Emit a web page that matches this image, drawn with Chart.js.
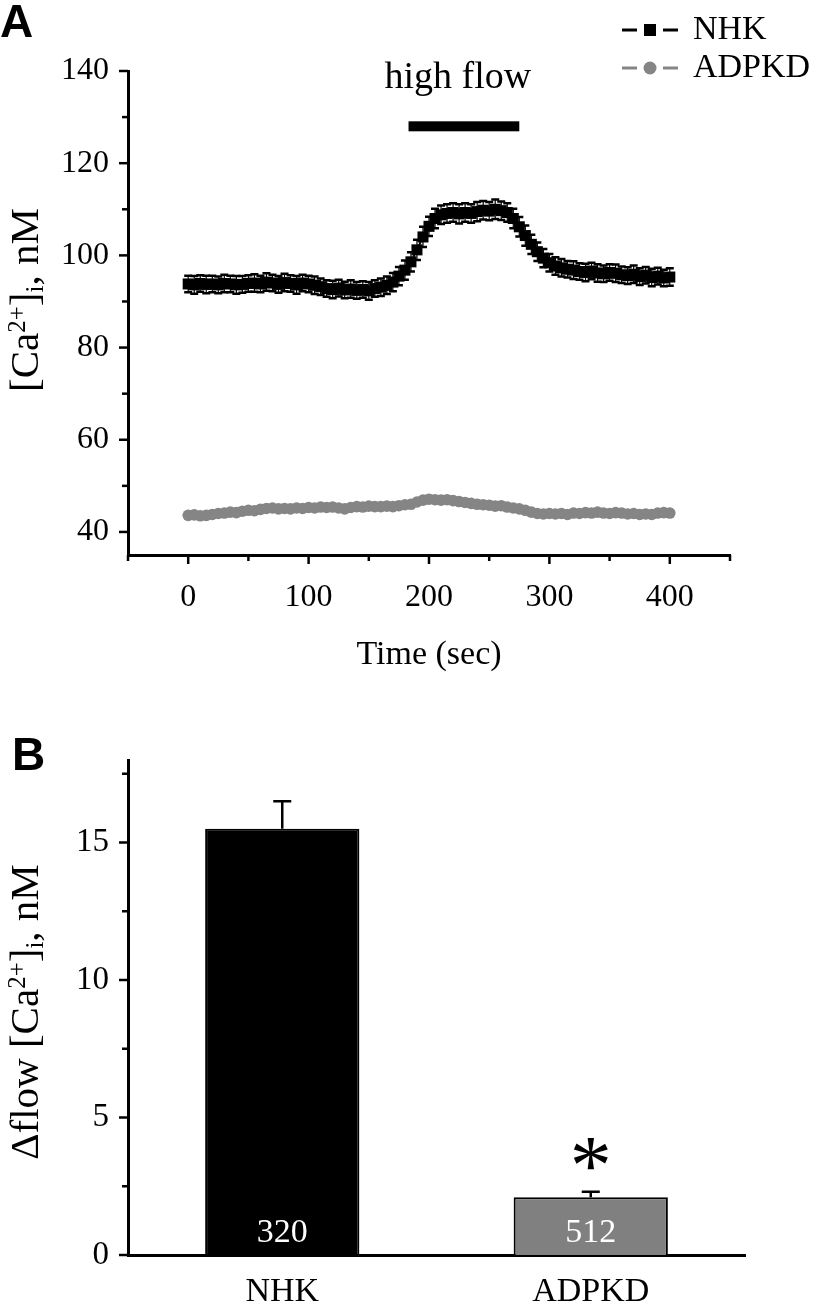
<!DOCTYPE html>
<html>
<head>
<meta charset="utf-8">
<title>Flow-induced Ca2+ response, NHK vs ADPKD</title>
<script src="https://cdn.jsdelivr.net/npm/chart.js@4.4.1/dist/chart.umd.min.js"></script>
<style>
  body { margin: 0; background: #ffffff; }
  canvas { position: absolute; left: 0; }
  #chartA { top: 0; }
  #chartB { top: 690px; }
</style>
</head>
<body>
<canvas id="chartA" width="816" height="690"></canvas>
<canvas id="chartB" width="816" height="615"></canvas>
<script>
// ---- Panel A: [Ca2+]i trace, one point every 5 sec
const timeSec = [0, 5, 10, 15, 20, 25, 30, 35, 40, 45, 50, 55, 60, 65, 70, 75, 80, 85, 90, 95,
  100, 105, 110, 115, 120, 125, 130, 135, 140, 145, 150, 155, 160, 165, 170, 175, 180, 185, 190, 195,
  200, 205, 210, 215, 220, 225, 230, 235, 240, 245, 250, 255, 260, 265, 270, 275, 280, 285, 290, 295,
  300, 305, 310, 315, 320, 325, 330, 335, 340, 345, 350, 355, 360, 365, 370, 375, 380, 385, 390, 395, 400];

const nhkMean = [93.8, 93.6, 93.9, 93.7, 93.8, 93.6, 93.9, 93.8, 93.6, 93.7, 93.9,
  94.0, 93.8, 94.2, 94.0, 93.7, 94.1, 93.9, 93.6, 94.0, 93.8, 93.5, 93.2,
  92.8, 92.6, 92.9, 92.5, 92.7, 92.4, 92.6, 92.3, 92.8, 93.1,
  93.5, 94.2, 95.5, 96.8, 98.6, 101.2, 104.0, 106.3,
  108.0, 108.8, 109.1, 109.3, 109.0, 109.3, 109.1, 109.5, 109.8, 109.6, 110.0, 109.7, 109.3,
  108.0, 106.2, 104.3, 102.4, 100.8, 99.4, 98.4, 97.7, 97.3, 97.0, 96.8,
  96.5, 96.3, 96.6, 96.2, 96.0, 96.3, 96.1, 95.8, 95.6, 95.9, 95.4, 95.7, 95.2, 95.5, 95.1, 95.3];

const nhkErr = [1.8, 1.9, 1.8, 1.9, 1.8, 1.8, 1.9, 1.8, 1.9, 1.8, 1.8,
  1.9, 1.8, 1.9, 1.8, 1.8, 1.9, 1.8, 1.9, 1.8, 1.8, 1.9, 1.8,
  1.8, 1.9, 1.8, 1.8, 1.9, 1.8, 1.8, 1.9, 1.8, 1.9,
  1.9, 2.0, 2.0, 2.1, 2.1, 2.2, 2.2, 2.1,
  2.1, 2.0, 2.0, 2.0, 2.1, 2.0, 2.0, 2.1, 2.0, 2.0, 2.1, 2.0, 2.0,
  2.1, 2.1, 2.2, 2.1, 2.0, 2.0, 1.9, 1.9, 1.9, 1.8, 1.9,
  1.8, 1.9, 1.8, 1.9, 1.8, 1.8, 1.9, 1.8, 1.8, 1.9, 1.8, 1.8, 1.9, 1.8, 1.8, 1.9];

const adpkdMean = [43.6, 43.7, 43.5, 43.6, 43.8, 44.0, 44.1, 44.3, 44.2, 44.5, 44.7,
  44.6, 44.9, 45.1, 45.2, 45.0, 45.1, 45.0, 45.2, 45.1, 45.3, 45.2, 45.4,
  45.3, 45.4, 45.2, 45.0, 45.3, 45.5, 45.4, 45.6, 45.5, 45.5,
  45.6, 45.5, 45.7, 45.9, 46.0, 46.5, 46.9, 47.1,
  47.0, 46.9, 47.0, 46.8, 46.6, 46.4, 46.2, 46.0, 45.9, 45.8, 45.6, 45.7, 45.4,
  45.2, 45.0, 44.7, 44.3, 44.0, 43.9, 44.0, 43.9, 44.0, 43.8, 44.1,
  44.0, 44.2, 44.1, 44.3, 44.1, 44.0, 44.2, 44.1, 43.9, 44.0, 43.8, 43.9, 43.8, 44.1, 44.2, 44.1];

// high flow period (sec) and the level of the marker bar (nM)
const flowStart = 183;
const flowEnd = 275;
const flowMarkLevel = 128;

const timeTicks = [-50, 0, 50, 100, 150, 200, 250, 300, 350, 400, 450];
const caTicks = [40, 50, 60, 70, 80, 90, 100, 110, 120, 130, 140];

// ---- Panel B: flow-induced rise
const groups = ['NHK', 'ADPKD'];
const deltaMean = [15.5, 2.1];
const deltaErr = [1.0, 0.2];
const cellCounts = ['320', '512'];
const sigMarks = ['', '*'];
const deltaTicks = [0, 2.5, 5, 7.5, 10, 12.5, 15, 17.5];

const serif = '"Liberation Serif", "Times New Roman", serif';
const grey = '#858585';
Chart.defaults.font.family = serif;
Chart.defaults.color = '#000';

// draws outward tick marks, long ones on the labelled values
function drawTickMarks(chart, id, majorStep) {
  const scale = chart.scales[id];
  const ctx = chart.ctx;
  ctx.save();
  ctx.strokeStyle = '#000';
  ctx.lineWidth = 2.5;
  scale.ticks.forEach(t => {
    const p = scale.getPixelForValue(t.value);
    const len = (t.value % majorStep === 0) ? 9 : 6;
    ctx.beginPath();
    if (scale.isHorizontal()) {
      ctx.moveTo(p, scale.top);
      ctx.lineTo(p, scale.top + len);
    } else {
      ctx.moveTo(scale.right, p);
      ctx.lineTo(scale.right - len, p);
    }
    ctx.stroke();
  });
  ctx.restore();
}

// rotated axis title with super/subscripts
function richTitle(ctx, parts, cx, cy, size) {
  const small = Math.round(size * 0.62);
  ctx.save();
  ctx.translate(cx, cy);
  ctx.rotate(-Math.PI / 2);
  ctx.fillStyle = '#000';
  ctx.textBaseline = 'middle';
  let total = 0;
  const widths = parts.map(p => {
    ctx.font = (p.sup || p.sub ? small : size) + 'px ' + serif;
    const w = ctx.measureText(p.text).width;
    total += w;
    return w;
  });
  let x = -total / 2;
  parts.forEach((p, i) => {
    ctx.font = (p.sup || p.sub ? small : size) + 'px ' + serif;
    const dy = p.sup ? -size * 0.22 : (p.sub ? size * 0.24 : 0);
    ctx.fillText(p.text, x, dy);
    x += widths[i];
  });
  ctx.restore();
}

const caParts = [{text: '[Ca'}, {text: '2+', sup: true}, {text: ']'}, {text: 'i', sub: true}, {text: ', nM'}];

function panelLetter(ctx, letter, x, y) {
  ctx.save();
  ctx.fillStyle = '#000';
  ctx.font = 'bold 46px "Liberation Sans", Arial, sans-serif';
  ctx.textBaseline = 'alphabetic';
  ctx.fillText(letter, x, y);
  ctx.restore();
}

const panelA = {
  id: 'panelA',
  beforeDatasetsDraw(chart) {
    // SEM bars for NHK
    const {ctx, scales: {x, y}} = chart;
    ctx.save();
    ctx.strokeStyle = '#000';
    ctx.lineWidth = 1.2;
    timeSec.forEach((t, i) => {
      const px = x.getPixelForValue(t);
      const top = y.getPixelForValue(nhkMean[i] + nhkErr[i]);
      const bot = y.getPixelForValue(nhkMean[i] - nhkErr[i]);
      ctx.beginPath();
      ctx.moveTo(px, top); ctx.lineTo(px, bot);
      ctx.stroke();
    });
    ctx.lineWidth = 2.5;
    timeSec.forEach((t, i) => {
      const px = x.getPixelForValue(t);
      const top = y.getPixelForValue(nhkMean[i] + nhkErr[i]);
      const bot = y.getPixelForValue(nhkMean[i] - nhkErr[i]);
      ctx.beginPath();
      ctx.moveTo(px - 4, top); ctx.lineTo(px + 4, top);
      ctx.moveTo(px - 4, bot); ctx.lineTo(px + 4, bot);
      ctx.stroke();
    });
    ctx.restore();
  },
  afterDraw(chart) {
    const {ctx, scales: {x, y}} = chart;
    drawTickMarks(chart, 'x', 100);
    drawTickMarks(chart, 'y', 20);

    // high flow bar
    const x0 = x.getPixelForValue(flowStart);
    const x1 = x.getPixelForValue(flowEnd);
    const yb = y.getPixelForValue(flowMarkLevel);
    ctx.save();
    ctx.fillStyle = '#000';
    ctx.fillRect(x0, yb - 5, x1 - x0, 10);
    ctx.font = '38px ' + serif;
    ctx.textAlign = 'center';
    ctx.textBaseline = 'alphabetic';
    ctx.fillText('high flow', (x0 + x1) / 2 - 6, yb - 38);

    // legend
    const rows = [
      {label: 'NHK', color: '#000', style: 'rect', yc: 30},
      {label: 'ADPKD', color: grey, style: 'circle', yc: 68}
    ];
    rows.forEach(r => {
      ctx.strokeStyle = r.color;
      ctx.fillStyle = r.color;
      ctx.lineWidth = 3;
      ctx.beginPath();
      ctx.moveTo(622, r.yc); ctx.lineTo(637, r.yc);
      ctx.moveTo(663, r.yc); ctx.lineTo(678, r.yc);
      ctx.stroke();
      if (r.style === 'rect') {
        ctx.fillRect(644, r.yc - 6, 12, 12);
      } else {
        ctx.beginPath();
        ctx.arc(650, r.yc, 6.5, 0, Math.PI * 2);
        ctx.fill();
      }
      ctx.fillStyle = '#000';
      ctx.font = '34px ' + serif;
      ctx.textAlign = 'left';
      ctx.textBaseline = 'middle';
      ctx.fillText(r.label, 693, r.yc);
    });
    ctx.restore();

    richTitle(ctx, caParts, 27, 300, 41);
    panelLetter(ctx, 'A', 0, 37);
  }
};

new Chart(document.getElementById('chartA'), {
  type: 'scatter',
  data: {
    datasets: [
      {
        label: 'NHK',
        data: timeSec.map((t, i) => ({x: t, y: nhkMean[i]})),
        showLine: true,
        borderColor: '#000',
        borderWidth: 2,
        backgroundColor: '#000',
        pointStyle: 'rect',
        pointRadius: 7.8,
        pointBorderWidth: 0
      },
      {
        label: 'ADPKD',
        data: timeSec.map((t, i) => ({x: t, y: adpkdMean[i]})),
        showLine: true,
        borderColor: grey,
        borderWidth: 2,
        backgroundColor: grey,
        pointStyle: 'circle',
        pointRadius: 5.8,
        pointBorderWidth: 0
      }
    ]
  },
  options: {
    responsive: false,
    animation: false,
    layout: {padding: {left: 0, right: 86, top: 71, bottom: 0}},
    plugins: {legend: {display: false}, tooltip: {enabled: false}},
    scales: {
      x: {
        type: 'linear',
        min: -50,
        max: 450,
        afterBuildTicks: s => { s.ticks = timeTicks.map(v => ({value: v})); },
        afterFit: s => { s.height = 135; },
        grid: {display: false, drawTicks: false},
        border: {color: '#000', width: 3},
        ticks: {
          autoSkip: false, maxRotation: 0, padding: 23, font: {size: 32}, color: '#000',
          callback: v => (v % 100 === 0 && v >= 0 && v <= 400) ? String(v) : ''
        },
        title: {display: true, text: 'Time (sec)', font: {size: 34}, color: '#000', padding: {top: 0, bottom: 15}}
      },
      y: {
        min: 35,
        max: 140,
        afterBuildTicks: s => { s.ticks = caTicks.map(v => ({value: v})); },
        afterFit: s => { s.width = 128; },
        grid: {display: false, drawTicks: false},
        border: {color: '#000', width: 3},
        ticks: {
          autoSkip: false, padding: 19, font: {size: 32}, color: '#000',
          callback: v => (v % 20 === 0) ? String(v) : ''
        }
      }
    }
  },
  plugins: [panelA]
});

const panelB = {
  id: 'panelB',
  afterDraw(chart) {
    const {ctx, scales: {x, y}} = chart;
    drawTickMarks(chart, 'y', 5);
    ctx.save();
    groups.forEach((g, i) => {
      const px = x.getPixelForValue(i);
      const top = y.getPixelForValue(deltaMean[i]);
      const whisker = y.getPixelForValue(deltaMean[i] + deltaErr[i]);
      ctx.strokeStyle = '#000';
      ctx.lineWidth = 2.5;
      ctx.beginPath();
      ctx.moveTo(px, top); ctx.lineTo(px, whisker);
      ctx.moveTo(px - 9, whisker); ctx.lineTo(px + 9, whisker);
      ctx.stroke();

      ctx.fillStyle = '#fff';
      ctx.font = '34px ' + serif;
      ctx.textAlign = 'center';
      ctx.textBaseline = 'middle';
      ctx.fillText(cellCounts[i], px, y.getPixelForValue(0) - 22);

      if (sigMarks[i]) {
        ctx.fillStyle = '#000';
        ctx.font = '84px ' + serif;
        ctx.textBaseline = 'alphabetic';
        ctx.fillText(sigMarks[i], px, whisker + 2);
      }
    });
    ctx.restore();

    richTitle(ctx, [{text: '\u0394flow '}].concat(caParts), 27, 322, 41);
    panelLetter(ctx, 'B', 12, 80);
  }
};

new Chart(document.getElementById('chartB'), {
  type: 'bar',
  data: {
    labels: groups,
    datasets: [{
      data: deltaMean,
      backgroundColor: ['#000000', '#808080'],
      borderColor: '#000',
      borderWidth: 2,
      barPercentage: 0.5,
      categoryPercentage: 1
    }]
  },
  options: {
    responsive: false,
    animation: false,
    layout: {padding: {left: 0, right: 71, top: 70, bottom: 0}},
    plugins: {legend: {display: false}, tooltip: {enabled: false}},
    scales: {
      x: {
        afterFit: s => { s.height = 50; },
        grid: {display: false, drawTicks: false},
        border: {color: '#000', width: 3},
        ticks: {padding: 17, font: {size: 34}, color: '#000'}
      },
      y: {
        min: 0,
        max: 18,
        afterBuildTicks: s => { s.ticks = deltaTicks.map(v => ({value: v})); },
        afterFit: s => { s.width = 128; },
        grid: {display: false, drawTicks: false},
        border: {color: '#000', width: 3},
        ticks: {
          autoSkip: false, padding: 19, font: {size: 33}, color: '#000',
          callback: v => (v % 5 === 0) ? String(v) : ''
        }
      }
    }
  },
  plugins: [panelB]
});
</script>
</body>
</html>
